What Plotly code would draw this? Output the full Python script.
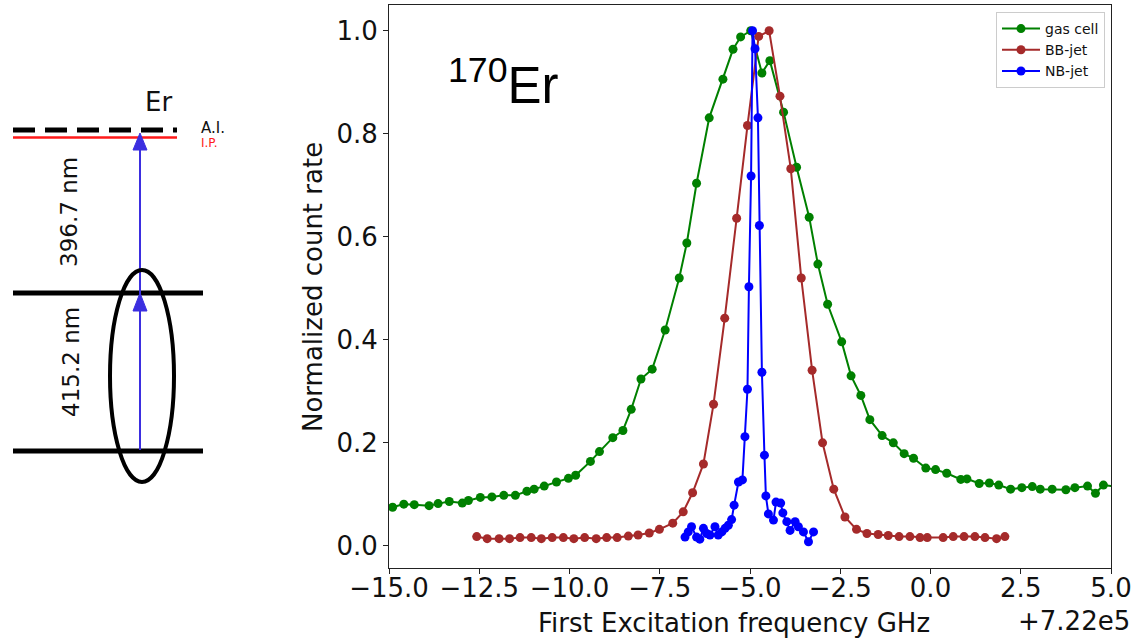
import plotly.graph_objects as go

W, H = 1136, 641

# ---------------- data ----------------
gas_x = [-14.90, -14.59, -14.30, -13.89, -13.64, -13.33, -12.97, -12.80, -12.47, -12.15,
         -11.82, -11.50, -11.18, -10.98, -10.70, -10.36, -10.03, -9.83, -9.42, -9.17,
         -8.80, -8.52, -8.29, -8.02, -7.71, -7.35, -6.96, -6.75, -6.48, -6.13,
         -5.75, -5.47, -5.26, -4.98, -4.67, -4.45, -4.07, -3.71, -3.36, -3.12,
         -2.85, -2.46, -2.20, -1.93, -1.68, -1.34, -1.03, -0.73, -0.47, -0.13,
         0.14, 0.45, 0.84, 1.01, 1.35, 1.63, 1.89, 2.22, 2.53, 2.82,
         3.04, 3.37, 3.75, 4.00, 4.35, 4.57, 4.79, 5.15]
gas_y = [0.075, 0.081, 0.080, 0.078, 0.082, 0.086, 0.083, 0.088, 0.094, 0.095,
         0.098, 0.098, 0.106, 0.110, 0.116, 0.124, 0.131, 0.137, 0.164, 0.183,
         0.210, 0.224, 0.265, 0.324, 0.343, 0.419, 0.520, 0.588, 0.704, 0.831,
         0.906, 0.964, 0.988, 1.000, 0.918, 0.942, 0.842, 0.735, 0.638, 0.547,
         0.469, 0.396, 0.330, 0.292, 0.245, 0.214, 0.200, 0.179, 0.170, 0.151,
         0.148, 0.141, 0.129, 0.130, 0.121, 0.122, 0.118, 0.110, 0.113, 0.115,
         0.110, 0.110, 0.109, 0.113, 0.116, 0.102, 0.118, 0.115]

bb_x = [-12.57, -12.28, -11.95, -11.66, -11.37, -11.06, -10.78, -10.48, -10.17, -9.88,
        -9.58, -9.26, -8.97, -8.68, -8.37, -8.10, -7.79, -7.51, -7.14, -6.85,
        -6.59, -6.29, -6.01, -5.70, -5.37, -5.07, -4.76, -4.47, -4.17, -3.87,
        -3.58, -3.28, -2.99, -2.68, -2.37, -2.05, -1.76, -1.45, -1.17, -0.87,
        -0.57, -0.29, -0.09, 0.35, 0.63, 0.93, 1.23, 1.51, 1.83, 2.06]
bb_y = [0.018, 0.014, 0.014, 0.014, 0.016, 0.016, 0.014, 0.016, 0.016, 0.014,
        0.016, 0.014, 0.016, 0.016, 0.019, 0.021, 0.025, 0.032, 0.044, 0.066,
        0.103, 0.159, 0.275, 0.442, 0.636, 0.816, 0.989, 1.000, 0.873, 0.732,
        0.520, 0.341, 0.200, 0.110, 0.056, 0.032, 0.024, 0.022, 0.020, 0.018,
        0.018, 0.016, 0.016, 0.016, 0.018, 0.018, 0.018, 0.016, 0.014, 0.018]

nb_x = [-6.80, -6.71, -6.62, -6.48, -6.39, -6.29, -6.20, -6.11, -5.97, -5.88,
        -5.78, -5.69, -5.60, -5.51, -5.44, -5.32, -5.21, -5.14, -5.07, -5.03,
        -4.97, -4.93, -4.86, -4.78, -4.74, -4.67, -4.60, -4.56, -4.49, -4.35,
        -4.28, -4.15, -4.09, -3.98, -3.89, -3.75, -3.66, -3.52, -3.38, -3.24]
nb_y = [0.017, 0.027, 0.037, 0.017, 0.013, 0.034, 0.024, 0.021, 0.037, 0.021,
        0.027, 0.034, 0.040, 0.051, 0.079, 0.124, 0.128, 0.212, 0.304, 0.503,
        0.718, 1.000, 0.965, 0.831, 0.622, 0.337, 0.176, 0.097, 0.062, 0.050,
        0.085, 0.083, 0.064, 0.047, 0.030, 0.047, 0.037, 0.027, 0.008, 0.027]

x_ticks = [-15.0, -12.5, -10.0, -7.5, -5.0, -2.5, 0.0, 2.5, 5.0]
x_tick_labels = ["\u221215.0", "\u221212.5", "\u221210.0", "\u22127.5", "\u22125.0",
                 "\u22122.5", "0.0", "2.5", "5.0"]
y_ticks = [0.0, 0.2, 0.4, 0.6, 0.8, 1.0]
y_tick_labels = ["0.0", "0.2", "0.4", "0.6", "0.8", "1.0"]

series_names = ["gas cell", "BB-jet", "NB-jet"]
series_colors = ["#008000", "#a52a2a", "#0000ff"]


def px(x):
    return x / W


def py(y):
    return 1 - y / H


fig = go.Figure()
for name, xs, ys, col in zip(series_names, [gas_x, bb_x, nb_x], [gas_y, bb_y, nb_y], series_colors):
    fig.add_trace(go.Scatter(x=xs, y=ys, name=name, mode="lines+markers",
                             line=dict(color=col, width=2),
                             marker=dict(color=col, size=9)))

axis_common = dict(showline=True, mirror=True, linecolor="#222", linewidth=1,
                   ticks="outside", ticklen=5, tickwidth=1, tickcolor="#222",
                   showgrid=False, zeroline=False, automargin=False,
                   tickfont=dict(family="DejaVu Sans", size=26, color="#111"))

fig.update_layout(
    width=W, height=H, autosize=False,
    margin=dict(l=0, r=0, t=0, b=0, pad=0, autoexpand=False),
    paper_bgcolor="white", plot_bgcolor="white",
    xaxis=dict(domain=[px(389), px(1111)], range=[-15, 5], ticklabelstandoff=-8,
               tickmode="array", tickvals=x_ticks, ticktext=x_tick_labels, **axis_common),
    yaxis=dict(domain=[py(568), py(5)], range=[-0.043, 1.05],
               tickmode="array", tickvals=y_ticks, ticktext=y_tick_labels, **axis_common),
    legend=dict(x=px(1105), xanchor="right", y=py(12), yanchor="top",
                bgcolor="white", bordercolor="#cccccc", borderwidth=1,
                font=dict(family="DejaVu Sans", size=14, color="#111"),
                itemwidth=38, tracegroupgap=0),
    showlegend=True,
)


def label(text, x, y, size, color="#111", family="DejaVu Sans", angle=0, xanchor="center", yanchor="middle"):
    return dict(text=text, x=px(x), y=py(y), xref="paper", yref="paper", showarrow=False,
                xanchor=xanchor, yanchor=yanchor, textangle=angle,
                font=dict(family=family, size=size, color=color))


ann = [
    label("First Excitation frequency GHz", 734, 623, 26),
    label("+7.22e5", 1132, 621, 26, xanchor="right"),
    label("Normalized count rate", 313, 287, 26, angle=-90),
    label("<sup>170</sup>Er", 446, 82, 51, color="black", family="Liberation Sans", xanchor="left"),
    label("Er", 158, 102, 26),
    label("A.I.", 199, 128, 15, xanchor="left"),
    label("I.P.", 199, 143, 12, color="#ff2020", xanchor="left"),
    label("396.7 nm", 69, 212, 23, angle=-90),
    label("415.2 nm", 71, 362, 23, angle=-90),
]
fig.update_layout(annotations=ann)

shapes = []
shapes.append(dict(type="line", xref="paper", yref="paper", x0=px(13), x1=px(177), y0=py(130), y1=py(130),
                   line=dict(color="black", width=5, dash="22px,10px")))
shapes.append(dict(type="line", xref="paper", yref="paper", x0=px(13), x1=px(177), y0=py(137.5), y1=py(137.5),
                   line=dict(color="#ff1a1a", width=2.5)))
for yy in (293, 451):
    shapes.append(dict(type="line", xref="paper", yref="paper", x0=px(13), x1=px(203), y0=py(yy), y1=py(yy),
                       line=dict(color="black", width=5)))
shapes.append(dict(type="line", xref="paper", yref="paper", x0=px(140), x1=px(140), y0=py(450), y1=py(140),
                   line=dict(color="#3b2ee0", width=2)))
for tip, base in ((293, 311), (133, 150)):
    path = "M {:.5f} {:.5f} L {:.5f} {:.5f} L {:.5f} {:.5f} Z".format(
        px(140), py(tip), px(133), py(base), px(147), py(base))
    shapes.append(dict(type="path", xref="paper", yref="paper", path=path,
                       fillcolor="#3b2ee0", line=dict(color="#3b2ee0", width=1)))
shapes.append(dict(type="circle", xref="paper", yref="paper", x0=px(110), x1=px(174), y0=py(482), y1=py(270),
                   line=dict(color="black", width=4)))
fig.update_layout(shapes=shapes)

fig.write_html("out.html")
